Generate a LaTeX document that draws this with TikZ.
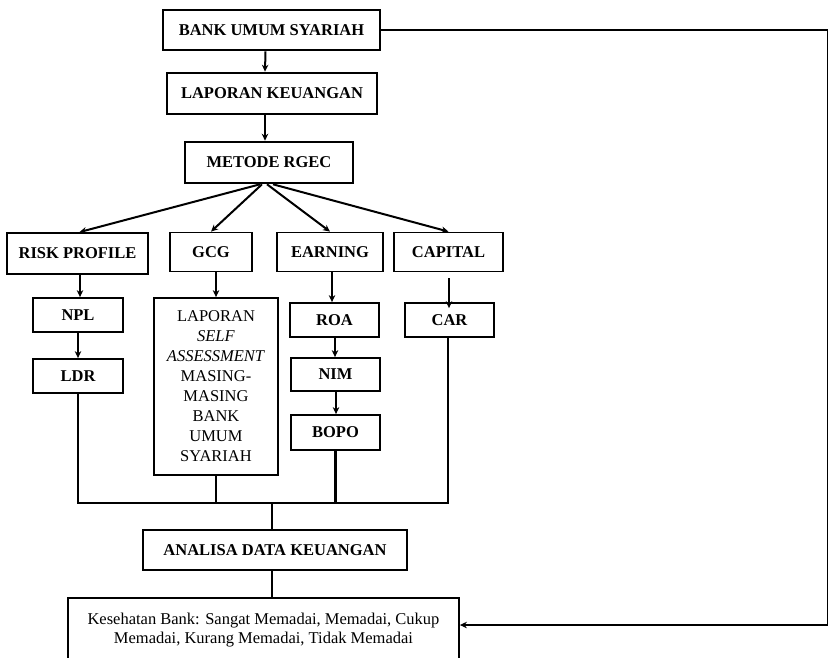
\documentclass[tikz,border=0pt]{standalone}
\usepackage{fontspec}
\setmainfont{Liberation Serif}
\usetikzlibrary{positioning}
\usetikzlibrary{arrows.meta}

\tikzset{
  mainbox/.style={draw, line width=2.6pt, inner sep=0pt, align=center,
    font=\bfseries\fontsize{16.5}{19}\selectfont},
  subbox/.style={draw, line width=1.8pt, inner sep=0pt, align=center,
    font=\bfseries\fontsize{16.5}{19}\selectfont},
  textbox/.style={draw, line width=1.8pt, inner sep=0pt, align=center,
    font=\fontsize{16.5}{20}\selectfont},
  arr/.style={-{Stealth[length=7pt,width=6.5pt]}, line width=2pt},
  bus/.style={line width=2.6pt}
}

\begin{document}
\begin{tikzpicture}[x=1pt, y=-1pt]
  \useasboundingbox (0,0) rectangle (829,657);
  % top chain
  \node[mainbox, minimum width=217pt, minimum height=40pt] (bank) at (271.5,30) {BANK UMUM SYARIAH};
  \node[mainbox, minimum width=210pt, minimum height=41pt] (lap) at (272,93.5) {LAPORAN KEUANGAN};
  \node[mainbox, minimum width=168pt, minimum height=41pt] (rgec) at (269,162.5) {METODE RGEC};
  % four aspects
  \node[subbox, minimum width=141pt, minimum height=41pt] (risk) at (77.5,253.5) {RISK PROFILE};
  \node[subbox, minimum width=82pt, minimum height=39pt] (gcg) at (211,252) {GCG};
  \node[subbox, minimum width=106pt, minimum height=39pt] (earn) at (330,252) {EARNING};
  \node[subbox, minimum width=109pt, minimum height=39pt] (cap) at (448.5,252) {CAPITAL};
  % ratios
  \node[subbox, minimum width=90pt, minimum height=34pt] (npl) at (78,315) {NPL};
  \node[subbox, minimum width=90pt, minimum height=34pt] (ldr) at (78,376) {LDR};
  \node[textbox, minimum width=124pt, minimum height=177pt] (self) at (216,386.5)
    {LAPORAN\\ \textit{SELF}\\ \textit{ASSESSMENT}\\ MASING-\\ MASING\\ BANK\\ UMUM\\ SYARIAH};
  \node[subbox, minimum width=89pt, minimum height=34pt] (roa) at (334.5,320) {ROA};
  \node[subbox, minimum width=89pt, minimum height=33pt] (nim) at (335.5,374.5) {NIM};
  \node[subbox, minimum width=89pt, minimum height=35pt] (bopo) at (335.5,432.5) {BOPO};
  \node[subbox, minimum width=89pt, minimum height=34pt] (car) at (449.5,320) {CAR};
  % result
  \node[mainbox, minimum width=264pt, minimum height=40pt] (ana) at (275,550) {ANALISA DATA KEUANGAN};
  \node[textbox, font=\fontsize{16.5}{19}\selectfont, minimum width=391pt, minimum height=64pt] (kes) at (263.5,630)
    {Kesehatan Bank: Sangat Memadai, Memadai, Cukup\\ Memadai, Kurang Memadai, Tidak Memadai};
  \coordinate (bus) at (272,503);
  \coordinate (rc) at (827.5,625);

  \draw[arr] ([xshift=-6pt]bank.south) -- ([xshift=-7pt]lap.north);
  \draw[arr] ([xshift=-7pt]lap.south) -- ([xshift=-4pt]rgec.north);
  \draw[arr] ([xshift=-9pt]rgec.south) -- ([xshift=2pt]risk.north);
  \draw[arr] ([xshift=-7pt]rgec.south) -- (gcg.north);
  \draw[arr] ([xshift=-2pt]rgec.south) -- (earn.north);
  \draw[arr] ([xshift=4pt]rgec.south) -- (cap.north);

  \draw[arr] ([xshift=2.5pt]risk.south) -- ([xshift=2.5pt]risk.south |- npl.north);
  \draw[arr] (npl) -- (ldr);
  \draw[arr] (self.north |- gcg.south) -- (self.north);
  \draw[arr] ([xshift=2pt]earn.south) -- ([xshift=2pt]earn.south |- roa.north);
  \draw[arr] ([xshift=0.5pt]roa.south) -- ([xshift=0.5pt]roa.south |- nim.north);
  \draw[arr] ([xshift=0.5pt]nim.south) -- ([xshift=0.5pt]bopo.north);
  \draw[arr] ([yshift=-6pt,xshift=0.5pt]cap.south) -- ([yshift=-6pt,xshift=0.5pt]cap.south |- car.north);

  \draw[bus] (ldr.south) |- (bus) -| ([xshift=-1.5pt]car.south);
  \draw[bus] (self.south) -- (self.south |- bus);
  \draw[bus] (bopo.south) -- (bopo.south |- bus);
  \draw[bus] (bus) -- (ana.north -| bus);
  \draw[bus] (ana.south -| bus) -- (kes.north -| bus);

  \draw[bus] (bank.east) -- (bank.east -| rc);
  \draw[arr, line width=1.2pt] (bank.east -| rc) -- (rc) -- (kes.east |- rc);
\end{tikzpicture}
\end{document}
